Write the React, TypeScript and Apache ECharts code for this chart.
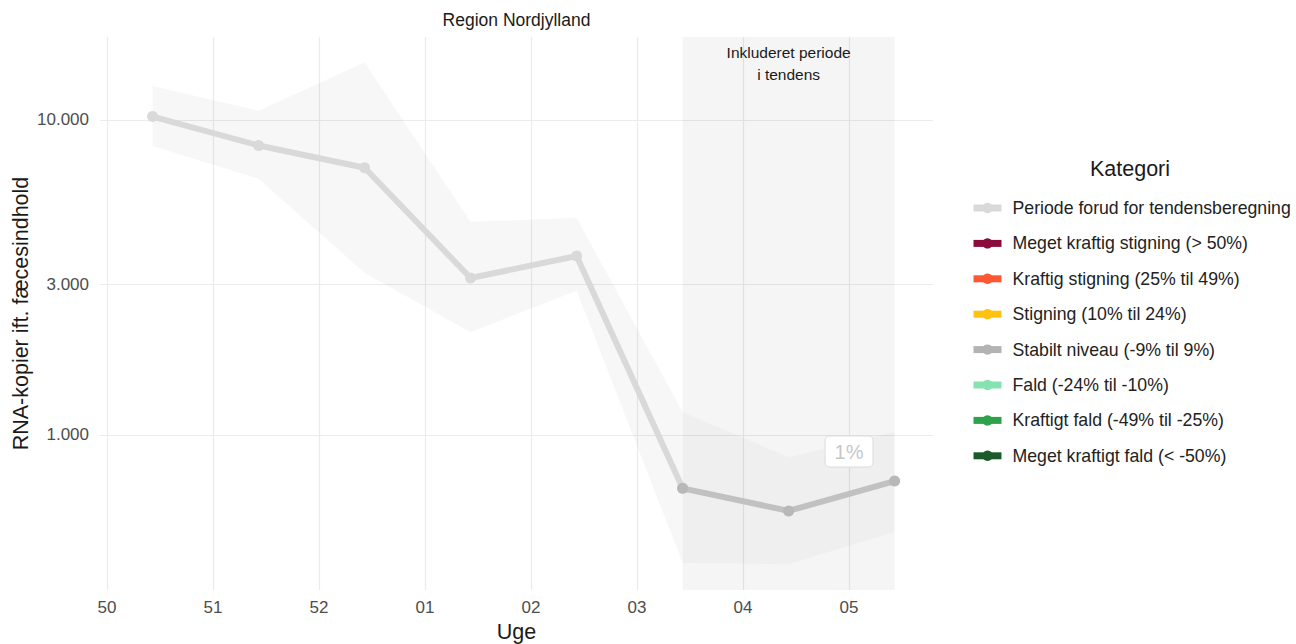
import React, { useEffect, useRef } from "react";
import * as echarts from "echarts";

// ---------- data ----------
const weekLabels = ["50", "51", "52", "01", "02", "03", "04", "05"];
const weekTicks = [0, 1, 2, 3, 4, 5, 6, 7];
const samplePos = [0.43, 1.43, 2.43, 3.43, 4.43, 5.43, 6.43, 7.43];
const rnaValues = [10250, 8300, 7050, 3150, 3700, 677, 574, 714];
const lowerBand = [8270, 6500, 3270, 2120, 2870, 392, 389, 492];
const upperBand = [12820, 10700, 15250, 4750, 4890, 1183, 851, 1022];
const yTicks = [1000, 3000, 10000];
const trendStartIndex = 5;
const trendLabel = "1%";
const trendLabelAt = [7.0, 886];

const categories = [
  "Periode forud for tendensberegning",
  "Meget kraftig stigning (> 50%)",
  "Kraftig stigning (25% til 49%)",
  "Stigning (10% til 24%)",
  "Stabilt niveau (-9% til 9%)",
  "Fald (-24% til -10%)",
  "Kraftigt fald (-49% til -25%)",
  "Meget kraftigt fald (< -50%)",
];
const categoryColors = [
  "#d9d9d9",
  "#8b0a3e",
  "#ff5733",
  "#ffc20e",
  "#b3b3b3",
  "#86e2b0",
  "#2ea14b",
  "#1d5a2a",
];

const FONT = "'Liberation Sans', Arial, sans-serif";

function fmtThousands(v: number): string {
  return Math.round(v)
    .toString()
    .replace(/\B(?=(\d{3})+(?!\d))/g, ".");
}

function range(a: number, b: number): number[] {
  const out: number[] = [];
  for (let i = a; i <= b; i++) out.push(i);
  return out;
}

function bandSeries(from: number, to: number, fill: string) {
  const idx = range(from, to);
  return {
    type: "custom",
    name: "band",
    silent: true,
    z: 1,
    data: idx.map((i) => [samplePos[i], lowerBand[i], upperBand[i]]),
    encode: { x: 0, y: [1, 2] },
    renderItem: (params: any, api: any) => {
      if (params.dataIndex !== 0) return null;
      const top = idx.map((i) => api.coord([samplePos[i], upperBand[i]]));
      const bot = idx
        .slice()
        .reverse()
        .map((i) => api.coord([samplePos[i], lowerBand[i]]));
      return {
        type: "polygon",
        shape: { points: top.concat(bot) },
        style: { fill },
      };
    },
  };
}

export default function App() {
  const ref = useRef<HTMLDivElement>(null);

  useEffect(() => {
    if (!ref.current) return;
    const chart = echarts.init(ref.current, null, { renderer: "svg" });

    const preIdx = range(0, trendStartIndex);
    const trendIdx = range(trendStartIndex, rnaValues.length - 1);

    const emptySeries = categories
      .map((name, i) => ({ name, i }))
      .filter((c) => c.i !== 0 && c.i !== 4)
      .map((c) => ({
        type: "line",
        name: c.name,
        data: [],
        color: categoryColors[c.i],
        lineStyle: { color: categoryColors[c.i], width: 7 },
        itemStyle: { color: categoryColors[c.i] },
        symbol: "circle",
      }));

    const option: any = {
      animation: false,
      textStyle: { fontFamily: FONT },
      title: [
        {
          text: "Region Nordjylland",
          left: 516.5,
          top: 11,
          padding: 0,
          textAlign: "center",
          textStyle: { fontSize: 17.5, fontWeight: "normal", color: "#1a1a1a", fontFamily: FONT },
        },
        {
          text: "Kategori",
          left: 1130,
          top: 158,
          padding: 0,
          textAlign: "center",
          textStyle: { fontSize: 21.5, fontWeight: "normal", color: "#1a1a1a", fontFamily: FONT },
        },
      ],
      legend: {
        orient: "vertical",
        left: 970,
        top: 199,
        padding: 0,
        itemWidth: 28,
        itemHeight: 13,
        itemGap: 17.4,
        selectedMode: false,
        lineStyle: { width: 7 },
        textStyle: {
          fontSize: 17.7,
          lineHeight: 17.7,
          color: "#222",
          fontFamily: FONT,
          padding: [0, 0, 0, 6],
        },
        data: categories.map((name, i) => ({
          name,
          itemStyle: { color: categoryColors[i] },
          lineStyle: { color: categoryColors[i], width: 7 },
        })),
      },
      grid: {
        left: 100,
        top: 37,
        width: 833,
        height: 553,
        containLabel: false,
        outerBoundsMode: "none",
      },
      xAxis: {
        type: "value",
        min: -0.066,
        max: 7.792,
        name: "Uge",
        nameLocation: "middle",
        nameGap: 31,
        nameMoveOverlap: false,
        nameTextStyle: { fontSize: 21.5, color: "#1a1a1a", fontFamily: FONT },
        axisLine: { show: false },
        axisTick: { show: false, customValues: weekTicks },
        axisLabel: {
          customValues: weekTicks,
          formatter: (v: number) => weekLabels[Math.round(v)],
          fontSize: 17,
          color: "#4d4d4d",
          margin: 9,
          fontFamily: FONT,
        },
        splitLine: { show: true, lineStyle: { color: "#ebebeb", width: 1.2 } },
      },
      yAxis: {
        type: "log",
        logBase: 10,
        min: 322,
        max: 18340,
        name: "RNA-kopier ift. fæcesindhold",
        nameLocation: "middle",
        nameGap: 68,
        nameMoveOverlap: false,
        nameTextStyle: { fontSize: 21.5, color: "#1a1a1a", fontFamily: FONT },
        axisLine: { show: false },
        axisTick: { show: false, customValues: yTicks },
        axisLabel: {
          customValues: yTicks,
          formatter: (v: number) => fmtThousands(v),
          fontSize: 17,
          color: "#4d4d4d",
          margin: 11,
          fontFamily: FONT,
        },
        splitLine: { show: true, lineStyle: { color: "#ebebeb", width: 1.2 } },
      },
      series: [
        bandSeries(0, trendStartIndex, "rgba(0,0,0,0.031)"),
        bandSeries(trendStartIndex, rnaValues.length - 1, "rgba(0,0,0,0.025)"),
        {
          type: "line",
          name: categories[0],
          z: 3,
          data: preIdx.map((i) => [samplePos[i], rnaValues[i]]),
          symbol: "circle",
          symbolSize: 11,
          color: categoryColors[0],
          lineStyle: { color: categoryColors[0], width: 6 },
          itemStyle: { color: categoryColors[0] },
          emphasis: { disabled: true },
        },
        {
          type: "line",
          name: categories[4],
          z: 4,
          data: trendIdx.map((i) => [samplePos[i], rnaValues[i]]),
          symbol: "circle",
          symbolSize: 11,
          color: categoryColors[4],
          lineStyle: { color: "#c1c1c1", width: 6 },
          itemStyle: { color: "#b8b8b8" },
          emphasis: { disabled: true },
          markArea: {
            silent: true,
            itemStyle: { color: "rgba(0,0,0,0.04)" },
            label: {
              show: true,
              position: "insideTop",
              distance: 4,
              fontSize: 15.5,
              lineHeight: 22,
              color: "#1a1a1a",
              fontFamily: FONT,
              align: "center",
            },
            data: [
              [
                { name: "Inkluderet periode\ni tendens", xAxis: samplePos[trendStartIndex] },
                { xAxis: samplePos[rnaValues.length - 1] },
              ],
            ],
          },
          markPoint: {
            silent: true,
            symbol: "circle",
            symbolSize: 0,
            label: {
              show: true,
              position: "inside",
              formatter: trendLabel,
              fontSize: 20,
              color: "#c8c8c8",
              backgroundColor: "#ffffff",
              borderColor: "#dcdcdc",
              borderWidth: 1,
              borderRadius: 4,
              padding: [5, 9, 5, 9],
              fontFamily: FONT,
            },
            data: [{ coord: trendLabelAt }],
          },
        },
        ...emptySeries,
      ],
    };

    chart.setOption(option);
    return () => chart.dispose();
  }, []);

  return (
    <div
      ref={ref}
      style={{ position: "fixed", left: 0, top: 0, width: 1296, height: 644, background: "#fff" }}
    />
  );
}
